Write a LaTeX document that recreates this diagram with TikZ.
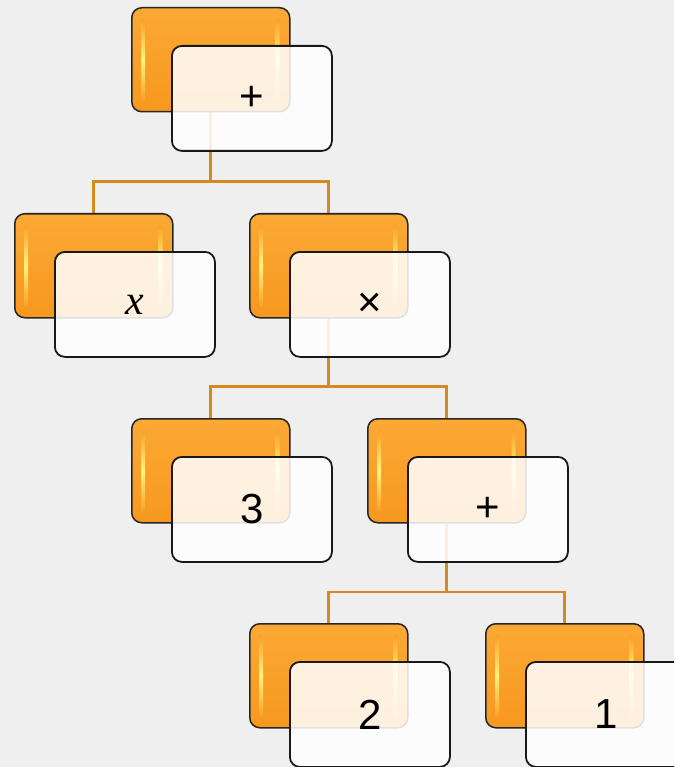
\documentclass[tikz,border=0pt]{standalone}
\usepackage{fontspec}
\setmainfont{Liberation Sans}
\newfontfamily\serifx{Liberation Serif}
\usetikzlibrary{calc,backgrounds}
\definecolor{bg}{HTML}{EFEFEF}
\definecolor{orng}{HTML}{FAA028}
\definecolor{orngtop}{HTML}{FBA935}
\definecolor{orngbot}{HTML}{F7981E}
\definecolor{conn}{HTML}{D68A1E}
\definecolor{gloss}{HTML}{FFF57A}
\tikzset{
 back/.style={draw=black!85, line width=1.5pt, rounded corners=10pt, top color=orngtop, bottom color=orngbot, minimum width=158pt, minimum height=104pt, anchor=north west, inner sep=0pt},
 front/.style={draw=black!90, line width=1.8pt, rounded corners=10pt, fill=white, fill opacity=0.86, text opacity=1, minimum width=160pt, minimum height=105pt, anchor=north west, inner sep=0pt, font=\fontsize{42}{50}\selectfont},
 link/.style={draw=conn, line width=2.8pt},
 shine/.style={top color=orng, bottom color=orng, middle color=gloss, rounded corners=1.5pt},
}
\newcommand\tnode[4]{%
 \node[back] (#1-o) at (#2,#3) {};
 \shade[shine] ($(#1-o.north west)+(10pt,-12pt)$) rectangle ($(#1-o.south west)+(14pt,12pt)$);
 \shade[shine] ($(#1-o.north east)+(-15pt,-12pt)$) rectangle ($(#1-o.south east)+(-11pt,12pt)$);
 \node[front] (#1) at (#2+40,#3+38) {#4};
}
\begin{document}
\begin{tikzpicture}[x=1pt,y=-1pt]
\clip (0,0) rectangle (674,767);
\tnode{r}{131}{7}{+}
\tnode{x}{14}{213}{\serifx\itshape x}
\tnode{m}{249}{213}{×}
\tnode{t}{131}{418}{3}
\tnode{p}{367}{418}{+}
\tnode{b}{249}{623}{2}
\tnode{o}{485}{623}{1}
\coordinate (bar1) at (0,181.5);
\coordinate (bar2) at (0,386.5);
\coordinate (bar3) at (0,592);
\begin{scope}[on background layer]
\fill[bg] (0,0) rectangle (674,767);
\draw[link] (r-o.south) -- (r-o.south |- bar1) -| (x-o.north);
\draw[link] (r-o.south |- bar1) -| (m-o.north);
\draw[link] (m-o.south) -- (m-o.south |- bar2) -| (t-o.north);
\draw[link] (m-o.south |- bar2) -| (p-o.north);
\draw[link] (p-o.south) -- (p-o.south |- bar3) -| (b-o.north);
\draw[link] (p-o.south |- bar3) -| (o-o.north);
\end{scope}
\end{tikzpicture}
\end{document}
